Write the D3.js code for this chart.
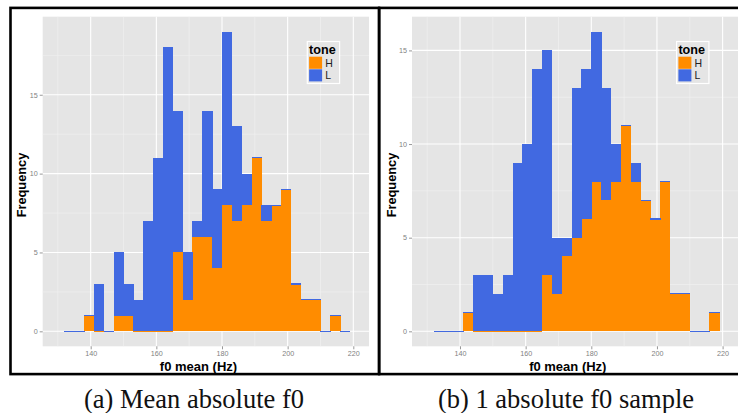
<!DOCTYPE html>
<html>
<head>
<meta charset="utf-8">
<script src="https://cdn.jsdelivr.net/npm/d3@7"></script>
<style>
  body { margin: 0; background: #fff; }
  svg { display: block; }
</style>
</head>
<body>
<svg></svg>
<script>
// histogram bins (left edge, Hz), 3 Hz wide
const bins = [132, 135, 138, 141, 144, 147, 150, 153, 156, 159, 162, 165, 168, 171, 174,
              177, 180, 183, 186, 189, 192, 195, 198, 201, 204, 207, 210, 213, 216];
const binWidth = 3;

// (a) mean absolute f0
const meanH = [0, 0, 1, 0, 0, 1, 1, 0, 0, 0, 0, 5, 2, 6, 6, 4, 8, 7, 8, 11, 7, 8, 9, 3, 2, 2, 0, 1, 0];
const meanL = [0, 0, 0, 3, 0, 4, 2, 2, 7, 11, 18, 9, 3, 1, 8, 5, 11, 6, 2, 0, 1, 0, 0, 0, 0, 0, 0, 0, 0];

// (b) 1 absolute f0 sample
const sampleH = [0, 0, 0, 1, 0, 0, 0, 0, 0, 0, 0, 3, 2, 4, 5, 6, 8, 7, 8, 11, 8, 7, 6, 8, 2, 2, 0, 0, 1];
const sampleL = [0, 0, 0, 0, 3, 3, 2, 3, 9, 10, 14, 12, 3, 1, 8, 8, 8, 6, 2, 0, 1, 0, 0, 0, 0, 0, 0, 0, 0];

const xTicks = [140, 160, 180, 200, 220];
const xMinor = [130, 150, 170, 190, 210];
const yTicks = [0, 5, 10, 15];
const yMinor = [2.5, 7.5, 12.5, 17.5];
const tones = ["H", "L"];
const captions = ["(a) Mean absolute f0", "(b) 1 absolute f0 sample"];

const width = 738;
const height = 413;
const colors = { H: "#FF8C00", L: "#4169E1" };

const svg = d3.select("svg")
    .attr("width", width)
    .attr("height", height);

// outer frames
svg.append("rect")
    .attr("x", 10.5).attr("y", 7.9)
    .attr("width", 368.5).attr("height", 366.2)
    .attr("fill", "none").attr("stroke", "#000").attr("stroke-width", 2.6);
svg.append("rect")
    .attr("x", 379.2).attr("y", 7.9)
    .attr("width", 420).attr("height", 366.2)
    .attr("fill", "none").attr("stroke", "#000").attr("stroke-width", 2.6);

function panel(left, H, L, caption, captionX) {
    const top = 16.7, bottom = 346.3, pw = 326.3;
    const g = svg.append("g");

    const rows = bins.map((b, i) => ({ x0: b, H: H[i], L: L[i] }));
    const series = d3.stack().keys(tones)(rows);
    const maxY = d3.max(rows, d => d.H + d.L);

    const x = d3.scaleLinear()
        .domain([125.38, 224.78])
        .range([left, left + pw]);
    const y = d3.scaleLinear()
        .domain([-0.05 * maxY, maxY * 1.05])
        .range([bottom, top]);

    // panel background
    g.append("rect")
        .attr("x", left).attr("y", top)
        .attr("width", pw).attr("height", bottom - top)
        .attr("fill", "#E5E5E5");

    // minor grid
    g.selectAll(".xminor").data(xMinor).enter().append("line")
        .attr("x1", d => x(d)).attr("x2", d => x(d))
        .attr("y1", top).attr("y2", bottom)
        .attr("stroke", "#F2F2F2").attr("stroke-width", 0.6);
    g.selectAll(".yminor").data(yMinor.filter(d => d < y.domain()[1])).enter().append("line")
        .attr("x1", left).attr("x2", left + pw)
        .attr("y1", d => y(d)).attr("y2", d => y(d))
        .attr("stroke", "#F2F2F2").attr("stroke-width", 0.6);

    // major grid
    g.selectAll(".xmajor").data(xTicks).enter().append("line")
        .attr("x1", d => x(d)).attr("x2", d => x(d))
        .attr("y1", top).attr("y2", bottom)
        .attr("stroke", "#fff").attr("stroke-width", 1.1);
    g.selectAll(".ymajor").data(yTicks).enter().append("line")
        .attr("x1", left).attr("x2", left + pw)
        .attr("y1", d => y(d)).attr("y2", d => y(d))
        .attr("stroke", "#fff").attr("stroke-width", 1.1);

    // stacked bars; zero counts still leave a hairline like the original
    series.forEach(s => {
        g.append("g")
            .attr("shape-rendering", "crispEdges")
            .selectAll("rect")
            .data(s)
            .enter()
            .append("rect")
              .attr("x", d => x(d.data.x0))
              .attr("width", d => x(d.data.x0 + binWidth) - x(d.data.x0) + 0.4)
              .attr("y", d => d[1] === d[0] ? y(d[1]) - 0.6 : y(d[1]))
              .attr("height", d => d[1] === d[0] ? 1.2 : y(d[0]) - y(d[1]))
              .attr("fill", colors[s.key]);
    });

    // axes
    const xAxis = d3.axisBottom(x).tickValues(xTicks).tickSize(3).tickPadding(1.5).tickSizeOuter(0);
    const yAxis = d3.axisLeft(y).tickValues(yTicks).tickSize(3).tickPadding(2).tickSizeOuter(0);

    const gx = g.append("g")
        .attr("transform", `translate(0, ${bottom})`)
        .call(xAxis);
    const gy = g.append("g")
        .attr("transform", `translate(${left}, 0)`)
        .call(yAxis);
    [gx, gy].forEach(a => {
        a.select(".domain").remove();
        a.selectAll(".tick line").attr("stroke", "#7F7F7F").attr("stroke-width", 0.8);
        a.selectAll(".tick text")
            .attr("fill", "#7F7F7F")
            .attr("font-family", "Liberation Sans, Arial, sans-serif")
            .attr("font-size", 7.2);
    });

    // axis titles
    g.append("text")
        .text("f0 mean (Hz)")
        .attr("x", left + 155.8).attr("y", 370.8)
        .attr("text-anchor", "middle")
        .attr("font-family", "Liberation Sans, Arial, sans-serif")
        .attr("font-weight", "bold").attr("font-size", 13);
    g.append("text")
        .text("Frequency")
        .attr("transform", `translate(${left - 16.5}, 185) rotate(-90)`)
        .attr("text-anchor", "middle")
        .attr("font-family", "Liberation Sans, Arial, sans-serif")
        .attr("font-weight", "bold").attr("font-size", 12.8);

    // legend
    const lx = left + 264.6, ly = 41.5;
    const lg = g.append("g").attr("transform", `translate(${lx}, ${ly})`);
    lg.append("rect")
        .attr("width", 32.3).attr("height", 42)
        .attr("fill", "#E5E5E5").attr("stroke", "#fff").attr("stroke-width", 1.2);
    lg.append("text")
        .text("tone")
        .attr("x", 1.8).attr("y", 12)
        .attr("font-family", "Liberation Sans, Arial, sans-serif")
        .attr("font-weight", "bold").attr("font-size", 12.6);
    tones.forEach((t, i) => {
        lg.append("rect")
            .attr("x", 1.8).attr("y", 15.2 + i * 12.6)
            .attr("width", 13).attr("height", 12.1)
            .attr("fill", colors[t]);
        lg.append("text")
            .text(t)
            .attr("x", 18).attr("y", 25 + i * 12.6)
            .attr("font-family", "Liberation Sans, Arial, sans-serif")
            .attr("font-size", 10.5)
            .attr("fill", "#222");
    });

    // caption
    svg.append("text")
        .text(caption)
        .attr("x", captionX).attr("y", 408)
        .attr("text-anchor", "middle")
        .attr("font-family", "Liberation Serif, Times New Roman, serif")
        .attr("font-size", 26.5)
        .attr("fill", "#111");
}

panel(42.7, meanH, meanL, captions[0], 194);
panel(412, sampleH, sampleL, captions[1], 566);
</script>
</body>
</html>
